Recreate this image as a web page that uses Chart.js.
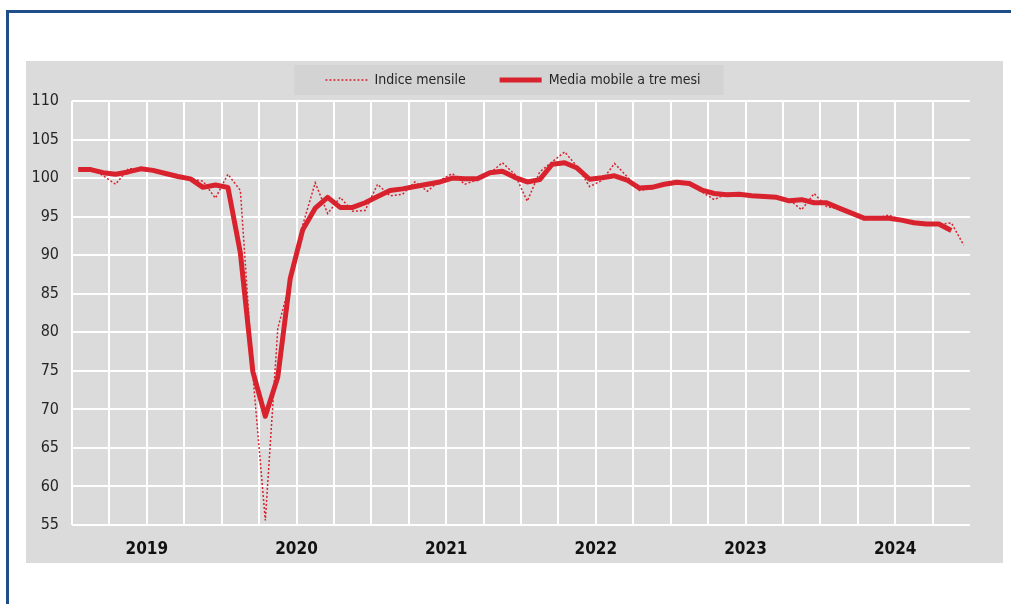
<!DOCTYPE html>
<html><head><meta charset="utf-8">
<script src="https://cdn.jsdelivr.net/npm/chart.js@4/dist/chart.umd.min.js"></script>
<style>
html,body{margin:0;padding:0;background:#fff;width:1011px;height:604px;overflow:hidden;}
#frame{position:absolute;left:6px;top:10px;width:1010px;height:600px;border-top:3px solid #1f4e89;border-left:3px solid #1f4e89;}
#wrap{position:absolute;left:26px;top:61px;width:977px;height:502px;background:#dbdbdb;}
canvas{display:block;}
</style></head><body>
<div id="frame"></div>
<div id="wrap"><canvas id="c" width="977" height="502"></canvas></div>
<script>
// ---- data ----
const years = ['2019', '2020', '2021', '2022', '2023', '2024'];
const monthNames = ['gen', 'feb', 'mar', 'apr', 'mag', 'giu', 'lug', 'ago', 'set', 'ott', 'nov', 'dic'];
const indiceMensile = [
  101.2, 101.3, 100.3, 99.2, 101.2, 101.2, 100.9, 100.6, 100.2, 99.9, 99.6, 97.4,
  100.5, 98.4, 74.5, 55.6, 80.5, 86.6, 93.9, 99.4, 95.4, 97.5, 95.7, 95.8,
  99.2, 97.7, 97.9, 99.5, 98.3, 99.7, 100.6, 99.2, 99.8, 100.6, 102.0, 100.5,
  97.0, 100.8, 102.1, 103.4, 101.5, 98.9, 99.7, 101.9, 100.2, 98.4, 98.6, 99.4,
  99.5, 99.3, 98.2, 97.2, 98.0, 97.9, 97.8, 97.6, 97.6, 97.2, 95.9, 98.0,
  96.3, 96.0, 95.4, 94.6, 94.8, 95.2, 94.5, 94.2, 94.0, 94.0, 94.2, 91.3
];
const mediaMobile = [
  101.1, 101.1, 100.7, 100.5, 100.8, 101.2, 101.0, 100.6, 100.2, 99.9, 98.8, 99.1,
  98.8, 90.3, 74.9, 69.1, 74.2, 87.0, 93.3, 96.1, 97.5, 96.2, 96.2, 96.8,
  97.6, 98.4, 98.6, 98.9, 99.2, 99.5, 100.0, 99.9, 99.9, 100.7, 100.9, 100.1,
  99.5, 99.8, 101.8, 102.0, 101.3, 99.85, 100.05, 100.3, 99.75, 98.7, 98.8, 99.2,
  99.45, 99.3, 98.45, 98.0, 97.85, 97.9, 97.7, 97.6, 97.5, 97.05, 97.2, 96.8,
  96.8, 96.1, 95.45, 94.8, 94.8, 94.8, 94.55, 94.2, 94.05, 94.05, 93.2, null
];
const seriesNames = ['Indice mensile', 'Media mobile a tre mesi'];
const yMin = 55, yMax = 110, yStep = 5;

// ---- build ----
const monthLabels = [];
years.forEach(y => monthNames.forEach(m => monthLabels.push(m + ' ' + y)));

const RED = '#d8222e';
const FONT = "'Liberation Sans Narrow', 'Arial Narrow', 'DejaVu Sans Condensed', sans-serif";

const legendBox = {
  id: 'legendBox',
  beforeInit(chart) {
    const lg = chart.legend;
    const orig = lg.fit;
    lg.fit = function () { orig.call(this); this.height = 62; };
  },
  afterLayout(chart) {
    chart.legend.left -= 8;
    chart.legend.right -= 8;
  },
  beforeDraw(chart) {
    const lg = chart.legend;
    const hb = lg.legendHitBoxes;
    if (!hb || !hb.length) return;
    const last = hb[hb.length - 1];
    const cy = hb[0].top + hb[0].height / 2;
    const x0 = hb[0].left - 31, x1 = last.left + last.width + 23;
    const ctx = chart.ctx;
    ctx.save();
    ctx.fillStyle = '#d3d3d3';
    ctx.fillRect(x0, cy - 15, x1 - x0, 30);
    ctx.restore();
  }
};

new Chart(document.getElementById('c'), {
  type: 'line',
  data: {
    labels: monthLabels,
    datasets: [
      {
        label: seriesNames[0], data: indiceMensile, borderColor: RED, backgroundColor: RED,
        borderWidth: 1.5, borderDash: [2, 2], pointRadius: 0, tension: 0, order: 2
      },
      {
        label: seriesNames[1], data: mediaMobile, borderColor: RED, backgroundColor: RED,
        borderWidth: 5, pointRadius: 0, tension: 0, order: 1, borderJoinStyle: 'round', spanGaps: false
      }
    ]
  },
  options: {
    responsive: false,
    animation: false,
    devicePixelRatio: 1,
    layout: { padding: { top: -22, right: 33, bottom: 1, left: 0 } },
    plugins: {
      tooltip: { enabled: false },
      legend: {
        position: 'top',
        fullSize: false,
        labels: {
          usePointStyle: true, pointStyle: 'line', pointStyleWidth: 42,
          padding: 34, color: '#262626',
          font: { family: FONT, size: 14 },
          sort: (a, b) => a.datasetIndex - b.datasetIndex,
          generateLabels: chart => {
            const items = Chart.defaults.plugins.legend.labels.generateLabels(chart);
            items.forEach(it => {
              const ds = chart.data.datasets[it.datasetIndex];
              it.lineDash = ds.borderDash || [];
              it.lineWidth = ds.borderWidth;
              it.strokeStyle = ds.borderColor;
            });
            return items;
          }
        }
      }
    },
    scales: {
      x: {
        type: 'category', offset: true, weight: 0,
        grid: {
          offset: true, drawTicks: false, lineWidth: 2,
          color: c => (c.index % 3 === 0 ? '#ffffff' : 'rgba(0,0,0,0)')
        },
        border: { display: false },
        ticks: { display: false, autoSkip: false },
        afterFit: s => { s.height = 0; }
      },
      x2: {
        type: 'category', labels: years, offset: true, position: 'bottom', weight: 1,
        grid: { display: false, drawTicks: false }, border: { display: false },
        ticks: { padding: 14, color: '#111', font: { family: FONT, size: 17, weight: 'bold' }, maxRotation: 0 },
        afterFit: s => { s.height = 37; }
      },
      y: {
        min: yMin, max: yMax,
        grid: { color: '#ffffff', lineWidth: 2, drawTicks: false },
        border: { display: false },
        ticks: { stepSize: yStep, padding: 13, color: '#262626', font: { family: FONT, size: 16 } },
        afterFit: s => { s.width = 46; }
      }
    }
  },
  plugins: [legendBox]
});
</script>
</body></html>
